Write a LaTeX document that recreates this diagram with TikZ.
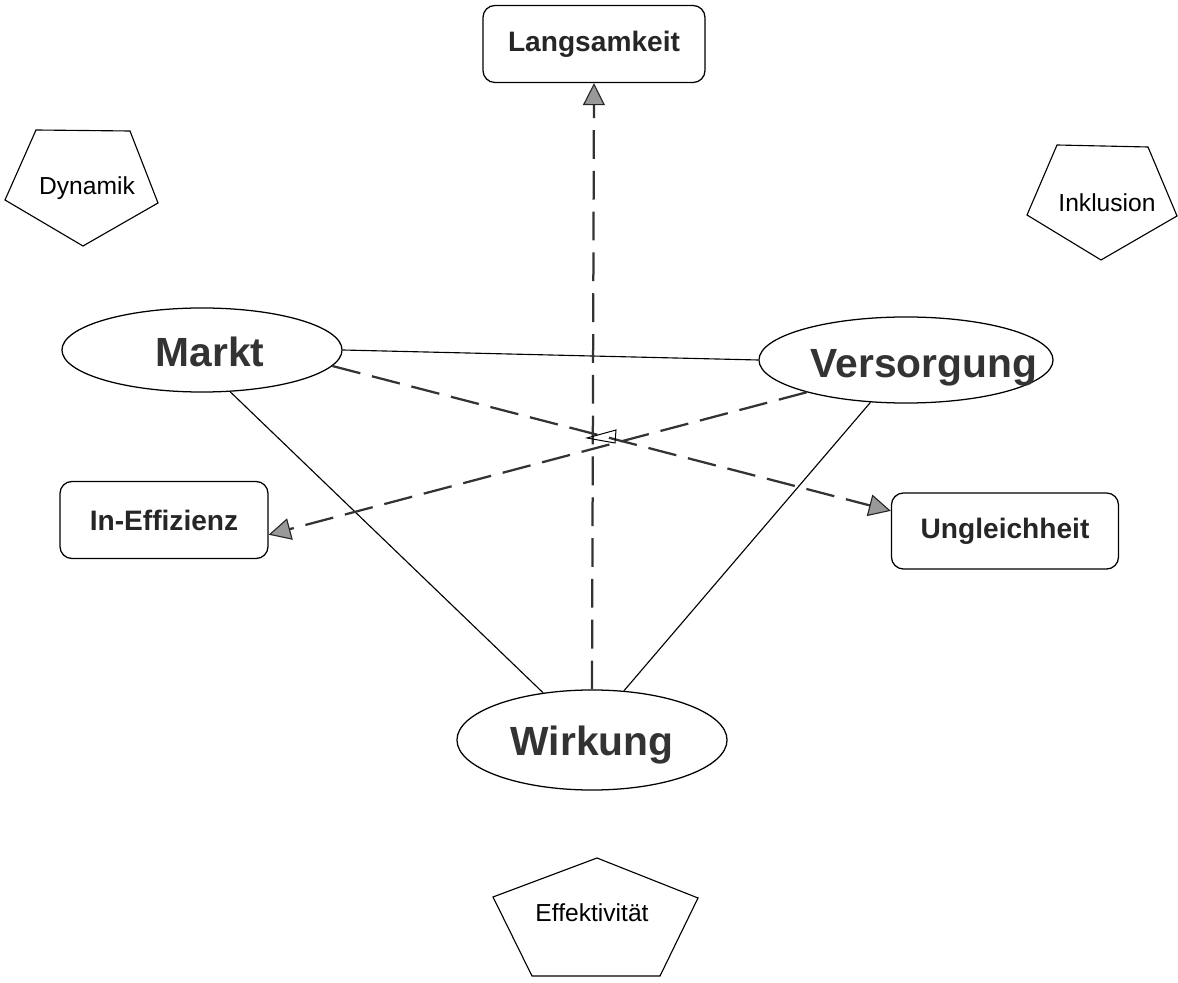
\documentclass[tikz,border=0pt]{standalone}
\usepackage{fontspec}
\setmainfont{Liberation Sans}
\usetikzlibrary{shapes.geometric,arrows.meta}
\begin{document}
\begin{tikzpicture}[x=0.025cm,y=-0.025cm,
 ell/.style={draw, ellipse, line width=0.9pt, inner sep=0pt},
 big/.style={font=\fontsize{29}{31}\selectfont\bfseries, text=black!80, inner sep=0pt},
 box/.style={draw, rounded corners=0.3cm, line width=0.9pt, inner sep=0pt, font=\fontsize{20}{22}\selectfont\bfseries, text=black!85},
 pent/.style={draw, line width=0.8pt},
 ptext/.style={font=\fontsize{17.5}{20}\selectfont, inner sep=0pt},
 link/.style={line width=0.8pt},
 dlink/.style={line width=1.6pt, draw=black!80, dash pattern=on 0.72cm off 0.3cm,
   -{Triangle[length=0.55cm,width=0.55cm,fill=black!40,color=black!85,line width=0.8pt]}},
]
\useasboundingbox (0,0) rectangle (1178,983);

% ellipses
\node[ell, minimum width=7.0cm, minimum height=2.1cm] (markt) at (202,350) {};
\node[big] (marktT) at (210,352) {Markt};
\node[ell, minimum width=7.35cm, minimum height=2.15cm] (vers) at (906,360) {};
\node[big] (versT) at (924,368) {Versorgung};
\node[ell, minimum width=6.75cm, minimum height=2.5cm] (wirk) at (592,740) {};
\node[big] (wirkT) at (592,745) {Wirkung};

% boxes
\node[box, minimum width=5.55cm, minimum height=1.925cm] (lang) at (594,44) {Langsamkeit};
\node[box, minimum width=5.2cm, minimum height=1.925cm] (ineff) at (164,520) {In-Effizienz};
\node[box, minimum width=5.675cm, minimum height=1.9cm] (ungl) at (1005,531) {Ungleichheit};

% pentagons
\draw[pent] (36,130) -- (130,131) -- (158,203) -- (83,246) -- (5,200) -- cycle;
\node[ptext] (dyn) at (87,188) {Dynamik};
\draw[pent] (1057,145) -- (1148,147) -- (1177,216) -- (1101,260) -- (1027,215) -- cycle;
\node[ptext] (inkl) at (1107,203) {Inklusion};
\draw[pent] (597,858) -- (698,898) -- (660,976) -- (532,976) -- (493,897) -- cycle;
\node[ptext] (eff) at (592,913) {Effektivität};

% solid links
\draw[link] (markt.east) -- (vers.west);
\draw[link] (markt.-56) -- (wirk.136);
\draw[link] (vers.-130) -- (wirk.57);

% dashed arrows
\draw[dlink] (wirk.north) -- (lang.south);
\draw[dlink] (markt.-7) -- (ungl.170);
\draw[dlink] (vers.-162) -- (ineff.-8);

% small open mark at the crossing
\coordinate (cx) at (587,438);
\draw[line width=0.7pt] (cx) -- (616,430) -- (615,443) -- cycle;
\end{tikzpicture}
\end{document}
